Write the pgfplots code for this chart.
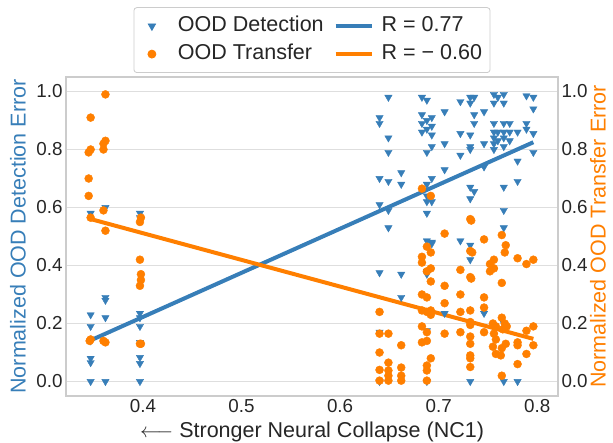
\documentclass[border=0pt]{standalone}
\usepackage{fontspec}
\setmainfont{Liberation Sans}
\usepackage{pgfplots}
\pgfplotsset{compat=1.18}
\definecolor{detblue}{RGB}{55,126,184}
\definecolor{traorange}{RGB}{255,127,0}
\definecolor{txtgray}{RGB}{38,38,38}
\newcommand{\tickfont}{\fontsize{18.8bp}{22bp}\selectfont}
\newcommand{\labfont}{\fontsize{21.5bp}{25bp}\selectfont}

\begin{document}
\begin{tikzpicture}
\pgfplotsset{
    every axis/.append style={
        scale only axis, width=492bp, height=319bp,
        xmin=0.322, xmax=0.821, ymin=-0.05, ymax=1.05,
        major tick length=0pt,
        axis line style={draw=black!20, line width=1.6bp},
        tick label style={font=\tickfont, text=txtgray},
        /pgf/number format/assume math mode=true,
        /pgf/number format/.cd, fixed, fixed zerofill, precision=1, /pgfplots/.cd,
        ytick={0,0.2,0.4,0.6,0.8,1.0},
        xtick={0.4,0.5,0.6,0.7,0.8},
    },
}
\begin{axis}[
    name=ax,
    ymajorgrids,
    grid style={draw=black!13, line width=1.2bp},
    xlabel={$\longleftarrow$ Stronger Neural Collapse (NC1)},
    xlabel style={font=\labfont, text=txtgray, at={(rel axis cs:0.5,0)}, anchor=center, yshift=-36bp},
    ylabel={Normalized OOD Detection Error},
    ylabel style={font=\labfont, text=detblue, at={(rel axis cs:0,0.5)}, anchor=center, yshift=48bp},
    legend columns=2,
    legend cell align=left,
    legend style={at={(0.5,1)}, anchor=south, yshift=4bp,
        draw=black!20, line width=0.8bp, rounded corners=3bp,
        font=\labfont, text=txtgray, inner xsep=0bp, inner ysep=4.5bp,
        nodes={inner xsep=8bp, inner ysep=3.5bp, text height=16bp, text depth=5bp},
        /tikz/every even column/.append style={column sep=2bp}},
    legend image code/.code={%
        \path[draw=none, fill=none, mark=none, -] (0bp,0bp) -- (36bp,0bp);
        \draw[mark repeat=2,mark phase=2,#1] plot coordinates {(0bp,0bp) (18bp,0bp) (36bp,0bp)};},
]
\addplot[only marks, mark=triangle*, mark size=4.2bp, color=detblue, mark options={rotate=180}] coordinates {
(0.347,0.58)(0.347,0.23)(0.347,0.19)(0.347,0.14)(0.347,0.08)(0.347,0.065)(0.347,0.0)
(0.362,0.60)(0.362,0.29)(0.362,0.28)(0.362,0.22)(0.362,0.0)
(0.397,0.58)(0.397,0.565)(0.397,0.235)(0.397,0.22)(0.397,0.19)(0.397,0.135)(0.397,0.083)(0.397,0.062)(0.397,0.0)
(0.640,0.91)(0.640,0.89)(0.640,0.70)(0.640,0.61)(0.640,0.375)(0.640,0.17)(0.640,0.0)
(0.649,0.98)(0.649,0.84)(0.649,0.79)(0.649,0.69)(0.649,0.59)(0.649,0.53)
(0.662,0.72)(0.662,0.68)(0.662,0.37)(0.662,0.29)
(0.683,0.98)(0.683,0.92)(0.683,0.89)(0.683,0.86)
(0.688,0.97)(0.688,0.90)(0.688,0.87)(0.688,0.79)(0.688,0.68)(0.688,0.64)(0.688,0.62)(0.688,0.58)(0.688,0.485)(0.688,0.38)(0.688,0.37)(0.688,0.175)(0.688,0.0)
(0.693,0.91)(0.693,0.88)(0.693,0.85)(0.693,0.81)(0.693,0.70)(0.693,0.62)(0.693,0.48)(0.693,0.475)
(0.706,0.93)(0.706,0.82)(0.706,0.73)(0.706,0.235)
(0.722,0.965)(0.722,0.855)(0.722,0.78)(0.722,0.485)
(0.732,0.98)(0.732,0.96)(0.732,0.85)(0.732,0.81)(0.732,0.80)(0.732,0.67)(0.732,0.63)(0.732,0.47)(0.732,0.42)(0.732,0.0)
(0.736,0.98)(0.736,0.92)(0.736,0.89)(0.736,0.655)
(0.746,0.93)(0.746,0.82)(0.746,0.74)(0.746,0.235)
(0.756,0.99)(0.756,0.96)(0.756,0.89)(0.756,0.86)(0.756,0.84)(0.756,0.82)(0.756,0.80)
(0.760,0.98)(0.760,0.86)(0.760,0.83)
(0.766,0.99)(0.766,0.96)(0.766,0.89)(0.766,0.86)(0.766,0.84)(0.766,0.81)(0.766,0.67)(0.766,0.59)(0.766,0.53)(0.766,0.20)(0.766,0.0)
(0.772,0.89)(0.772,0.86)(0.772,0.83)
(0.780,0.86)(0.780,0.76)(0.780,0.69)(0.780,0.0)
(0.789,0.985)(0.789,0.89)(0.789,0.87)
(0.796,0.98)(0.796,0.94)(0.796,0.855)(0.796,0.79)
};
\addlegendentry{OOD Detection}
\addplot[no marks, color=detblue, line width=4bp] coordinates {(0.349,0.145) (0.796,0.825)};
\addlegendentry{R = 0.77}
\addplot[only marks, mark=*, mark size=4bp, color=traorange] coordinates {
(0.347,0.91)(0.347,0.80)(0.345,0.79)(0.345,0.70)(0.345,0.64)(0.347,0.565)(0.347,0.145)(0.346,0.14)
(0.362,0.99)(0.362,0.83)(0.360,0.82)(0.360,0.80)(0.360,0.59)(0.362,0.52)(0.360,0.14)(0.362,0.135)
(0.398,0.565)(0.397,0.55)(0.397,0.42)(0.398,0.37)(0.398,0.35)(0.397,0.33)(0.397,0.13)(0.398,0.13)
(0.640,0.24)(0.640,0.165)(0.640,0.10)(0.640,0.04)(0.640,0.003)
(0.649,0.165)(0.649,0.065)(0.649,0.038)(0.649,0.02)(0.649,0.003)
(0.662,0.125)(0.662,0.048)(0.662,0.02)(0.662,0.003)
(0.683,0.665)(0.683,0.43)(0.683,0.41)(0.683,0.30)(0.683,0.245)(0.683,0.19)(0.683,0.135)
(0.688,0.465)(0.688,0.38)(0.688,0.29)(0.688,0.24)(0.688,0.17)(0.688,0.14)(0.688,0.055)(0.688,0.038)(0.688,0.003)
(0.692,0.64)(0.692,0.445)(0.692,0.39)(0.692,0.345)(0.692,0.23)(0.692,0.245)(0.692,0.08)
(0.706,0.51)(0.706,0.33)(0.706,0.27)(0.706,0.165)
(0.722,0.385)(0.722,0.30)(0.722,0.24)(0.722,0.17)
(0.732,0.56)(0.733,0.555)(0.732,0.45)(0.734,0.445)(0.732,0.36)(0.733,0.355)(0.732,0.245)(0.732,0.205)(0.732,0.195)(0.732,0.155)(0.732,0.13)(0.732,0.09)(0.732,0.08)(0.732,0.05)
(0.746,0.49)(0.746,0.29)(0.746,0.255)(0.746,0.17)
(0.756,0.42)(0.752,0.405)(0.752,0.38)(0.756,0.39)(0.755,0.20)(0.758,0.19)(0.756,0.165)(0.758,0.145)(0.755,0.12)(0.758,0.095)
(0.764,0.505)(0.764,0.34)(0.764,0.22)(0.767,0.20)(0.765,0.18)(0.764,0.115)(0.763,0.09)(0.764,0.02)
(0.768,0.47)(0.767,0.445)(0.769,0.19)(0.768,0.13)
(0.780,0.425)(0.780,0.135)(0.780,0.125)(0.780,0.06)
(0.789,0.405)(0.789,0.175)(0.789,0.095)
(0.796,0.42)(0.796,0.19)(0.796,0.125)
};
\addlegendentry{OOD Transfer}
\addplot[no marks, color=traorange, line width=4bp] coordinates {(0.345,0.562) (0.796,0.147)};
\addlegendentry{R = − 0.60}
\end{axis}
\begin{axis}[
    axis x line=none,
    axis y line*=right,
    ylabel={Normalized OOD Transfer Error},
    ylabel style={font=\labfont, text=traorange, at={(rel axis cs:1,0.5)}, anchor=center, yshift=-40bp},
]
\end{axis}
\pgfresetboundingbox
\path (ax.south west) ++(-66bp,-47bp) rectangle ([xshift=55bp,yshift=77bp]ax.north east);
\end{tikzpicture}
\end{document}
